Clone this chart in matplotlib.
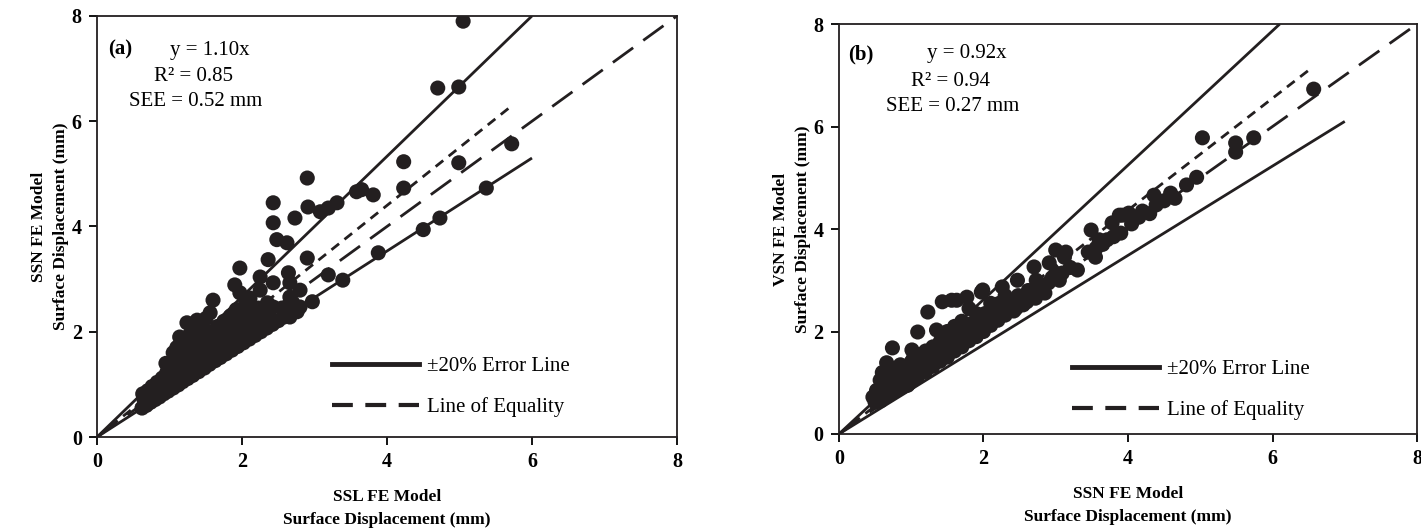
import matplotlib
matplotlib.use("Agg")
import matplotlib.pyplot as plt
from matplotlib.lines import Line2D

plt.rcParams['font.family'] = ['Liberation Serif', 'DejaVu Serif']

# ---------------- data: panel (a) ----------------
a_x = [5.05, 4.70, 4.99, 5.72, 4.99, 4.23, 4.23, 5.37, 4.73, 4.50, 3.88, 3.39, 2.97, 3.81, 3.58, 3.65,
       3.31, 3.19, 3.08, 2.90, 2.43, 2.91, 2.73, 2.43, 2.48, 2.62, 2.36, 2.90, 1.97, 2.25, 2.64, 3.19,
       2.43, 2.66, 2.80, 2.25, 1.90, 1.60, 1.97, 2.11, 2.66, 2.43, 2.76, 2.66, 1.56, 1.24, 1.38, 1.14, 1.05,
       0.62, 0.68, 0.74, 0.80, 0.86, 0.92, 0.98, 1.05, 1.12, 1.18, 1.25, 1.32, 1.40, 1.48, 1.55, 1.63,
       1.70, 1.78, 1.86, 1.94, 2.02, 2.10, 2.18, 2.26, 2.34, 2.42, 2.50, 2.58, 2.68, 2.80,
       0.65, 0.70, 0.76, 0.82, 0.88, 0.95, 1.02, 1.08, 1.15, 1.22, 1.30, 1.38, 1.45, 1.52, 1.60, 1.68,
       1.76, 1.85, 1.93, 2.02, 2.12, 2.20, 2.30,
       0.63, 0.70, 0.76, 0.83, 0.90, 0.96, 1.02, 1.08, 1.15, 1.20, 1.28, 1.35, 1.42, 1.50, 1.58, 1.66,
       1.75, 1.84, 1.92, 2.05, 1.10, 1.28, 1.45, 1.20, 1.55, 1.70, 0.85, 1.00,
       0.66, 0.72, 0.78, 0.84, 0.90, 0.94, 1.00, 1.04, 1.10, 1.12, 1.16, 1.24, 1.26, 1.32, 1.36, 1.42,
       1.46, 1.52, 1.56, 1.62, 1.64, 1.72, 1.74, 1.80, 1.82, 1.90, 1.95, 2.00, 2.08, 2.15, 2.22, 2.28,
       2.35, 2.40, 2.55, 2.70, 1.35, 1.20, 1.50, 0.95]
a_y = [7.90, 6.63, 6.65, 5.57, 5.21, 5.23, 4.73, 4.73, 4.16, 3.94, 3.50, 2.98, 2.57, 4.60, 4.66, 4.70,
       4.45, 4.35, 4.28, 4.92, 4.45, 4.37, 4.16, 4.07, 3.75, 3.69, 3.37, 3.40, 3.21, 3.04, 3.12, 3.08,
       2.93, 2.93, 2.79, 2.79, 2.89, 2.60, 2.74, 2.64, 2.66, 2.47, 2.38, 2.28, 2.36, 2.17, 2.22, 1.90, 1.60,
       0.55, 0.60, 0.66, 0.71, 0.76, 0.82, 0.87, 0.93, 0.99, 1.05, 1.11, 1.17, 1.24, 1.31, 1.38, 1.45,
       1.51, 1.58, 1.65, 1.72, 1.79, 1.86, 1.93, 2.00, 2.07, 2.14, 2.21, 2.28, 2.36, 2.47,
       0.70, 0.76, 0.82, 0.88, 0.95, 1.02, 1.10, 1.17, 1.24, 1.30, 1.38, 1.47, 1.55, 1.62, 1.70, 1.78,
       1.87, 1.96, 2.05, 2.12, 2.22, 2.30, 2.40,
       0.82, 0.88, 0.96, 1.04, 1.12, 1.22, 1.30, 1.38, 1.45, 1.55, 1.62, 1.72, 1.80, 1.90, 2.00, 2.10,
       2.20, 2.30, 2.42, 2.55, 1.70, 1.95, 2.10, 1.40, 1.75, 1.95, 1.00, 1.20,
       0.62, 0.72, 0.78, 0.92, 0.86, 1.08, 0.95, 1.18, 1.04, 1.32, 1.12, 1.20, 1.45, 1.30, 1.52, 1.38,
       1.66, 1.45, 1.85, 1.58, 1.92, 1.64, 2.02, 1.72, 2.12, 1.84, 2.25, 1.98, 2.35, 2.05, 2.45, 2.15,
       2.55, 2.25, 2.45, 2.55, 2.00, 1.80, 2.25, 1.40]

# lines of panel (a)
a_err_hi_x, a_err_hi_y = [0, 6.0], [0, 8.0]
a_err_lo_x, a_err_lo_y = [0, 6.0], [0, 5.3]
a_fit_x, a_fit_y = [0, 5.7], [0, 6.27]
a_eq_x, a_eq_y = [0, 8], [0, 8]

# ---------------- data: panel (b) ----------------
b_x = [6.57, 5.03, 5.74, 5.49, 5.49, 4.95, 4.81, 4.59, 4.36, 4.39, 4.01, 4.15, 3.88, 3.78, 3.92, 3.49,
       3.60, 3.56, 3.71, 3.90, 3.00, 3.12, 3.14, 3.00, 2.91, 3.09, 2.70, 2.73, 2.77, 2.47, 2.26, 1.99,
       1.97, 1.77, 1.63, 1.56, 1.43, 1.23, 1.35, 1.09, 0.74, 1.01, 0.66, 0.57, 0.47,
       0.50, 0.55, 0.60, 0.65, 0.70, 0.75, 0.80, 0.85, 0.90, 0.95, 1.00, 1.05, 1.10, 1.15, 1.20, 1.25,
       1.30, 1.35, 1.40, 1.45, 1.50, 1.55, 1.60, 1.65, 1.70, 1.75, 1.80, 1.85, 1.90, 1.95, 2.00, 2.05,
       2.10, 2.15, 2.20, 2.25, 2.30, 2.38, 2.45, 2.52, 2.60, 2.68, 2.80, 2.90, 0.70, 1.00, 1.20, 1.50,
       1.70, 1.90, 2.10, 0.60, 0.85, 1.10, 1.40, 1.60, 2.30, 0.95, 1.30, 1.80,
       0.52, 0.58, 0.62, 0.68, 0.72, 0.78, 0.82, 0.88, 0.92, 0.98, 1.02, 1.08, 1.12, 1.18, 1.22, 1.28,
       1.32, 1.38, 1.42, 1.48, 1.52, 1.58, 1.62, 1.68, 1.72, 1.78, 1.82, 1.88, 1.92, 1.98, 2.02, 2.08,
       2.12, 2.18, 2.22, 2.28, 2.35, 2.42, 2.48, 2.55, 2.62, 2.72, 2.85, 2.95, 3.05, 3.20, 3.30, 3.45,
       3.55, 3.65, 3.80, 4.05, 4.20, 4.30, 4.50, 4.65]
b_y = [6.73, 5.78, 5.78, 5.68, 5.50, 5.01, 4.86, 4.70, 4.66, 4.47, 4.31, 4.23, 4.27, 4.12, 4.27, 3.98,
       3.79, 3.63, 3.79, 3.92, 3.59, 3.45, 3.55, 3.14, 3.34, 3.14, 3.26, 3.00, 2.77, 3.00, 2.87, 2.81,
       2.77, 2.67, 2.61, 2.61, 2.58, 2.38, 2.03, 1.99, 1.68, 1.64, 1.39, 1.05, 0.72,
       0.62, 0.70, 0.80, 0.90, 0.98, 1.05, 0.90, 1.10, 1.00, 1.20, 1.05, 1.25, 1.15, 1.35, 1.22, 1.45,
       1.32, 1.55, 1.42, 1.65, 1.50, 1.72, 1.62, 1.85, 1.70, 1.95, 1.82, 2.05, 1.90, 2.15, 2.00, 2.25,
       2.12, 2.35, 2.22, 2.42, 2.32, 2.50, 2.45, 2.62, 2.58, 2.75, 2.85, 2.95, 0.78, 1.40, 1.62, 2.00,
       2.20, 2.35, 2.55, 1.20, 1.35, 1.55, 1.80, 2.10, 2.70, 0.95, 1.70, 2.45,
       0.85, 0.65, 1.00, 0.75, 1.15, 0.85, 1.25, 0.92, 1.30, 1.00, 1.45, 1.10, 1.50, 1.25, 1.58, 1.35,
       1.62, 1.45, 1.75, 1.55, 1.85, 1.65, 1.95, 1.75, 2.05, 1.85, 2.15, 1.95, 2.25, 2.05, 2.35, 2.15,
       2.45, 2.25, 2.55, 2.35, 2.62, 2.40, 2.70, 2.52, 2.80, 2.65, 2.75, 3.05, 3.00, 3.25, 3.20, 3.55,
       3.45, 3.70, 3.85, 4.10, 4.35, 4.30, 4.55, 4.60]

b_err_hi_x, b_err_hi_y = [0, 6.1], [0, 8.0]
b_err_lo_x, b_err_lo_y = [0, 7.0], [0, 6.1]
b_fit_x, b_fit_y = [0, 6.52], [0, 7.12]
b_eq_x, b_eq_y = [0, 8], [0, 8]

ticks = [0, 2, 4, 6, 8]

panels = [
    dict(pos=[0.0683, 0.177, 0.4081, 0.793], x=a_x, y=a_y,
         hi=(a_err_hi_x, a_err_hi_y), lo=(a_err_lo_x, a_err_lo_y),
         fit=(a_fit_x, a_fit_y), eq=(a_eq_x, a_eq_y),
         tag='(a)', eqn='y = 1.10x', r2='R² = 0.85', see='SEE = 0.52 mm',
         tagxy=(0.040, 0.920), eqnxy=(0.195, 0.919), r2xy=(0.167, 0.855), seexy=(0.170, 0.796),
         xlabel='SSL FE Model\nSurface Displacement (mm)',
         ylabel='SSN FE Model\nSurface Displacement (mm)',
         leg=(0.405, 0.048)),
    dict(pos=[0.5904, 0.1827, 0.4068, 0.772], x=b_x, y=b_y,
         hi=(b_err_hi_x, b_err_hi_y), lo=(b_err_lo_x, b_err_lo_y),
         fit=(b_fit_x, b_fit_y), eq=(b_eq_x, b_eq_y),
         tag='(b)', eqn='y = 0.92x', r2='R² = 0.94', see='SEE = 0.27 mm',
         tagxy=(0.038, 0.925), eqnxy=(0.221, 0.927), r2xy=(0.193, 0.861), seexy=(0.196, 0.798),
         xlabel='SSN FE Model\nSurface Displacement (mm)',
         ylabel='VSN FE Model\nSurface Displacement (mm)',
         leg=(0.403, 0.034)),
]

fig = plt.figure(figsize=(14.21, 5.31), dpi=100)
for p in panels:
    ax = fig.add_axes(p['pos'])
    ax.plot(*p['hi'], color='#231f20', lw=2.0, solid_capstyle='butt')
    ax.plot(*p['lo'], color='#231f20', lw=2.0, solid_capstyle='butt')
    ax.plot(*p['fit'], color='#231f20', lw=2.0, dashes=(3.5, 2.5))
    ax.plot(*p['eq'], color='#231f20', lw=2.0, dashes=(9, 4.5))
    ax.scatter(p['x'], p['y'], s=118, color='#231f20', edgecolors='none', zorder=3)
    ax.set_xlim(0, 8)
    ax.set_ylim(0, 8)
    ax.set_xticks(ticks)
    ax.set_yticks(ticks)
    ax.tick_params(direction='out', length=6, width=1.3, labelsize=14.5, pad=5,
                   top=False, right=False)
    for lab in ax.get_xticklabels() + ax.get_yticklabels():
        lab.set_fontweight('bold')
    for s in ax.spines.values():
        s.set_linewidth(1.3)
        s.set_color('#231f20')
    ax.set_xlabel(p['xlabel'], fontsize=12.5, fontweight='bold', labelpad=12, linespacing=1.55)
    ax.set_ylabel(p['ylabel'], fontsize=12.5, fontweight='bold', labelpad=2, linespacing=1.45)
    ax.text(*p['tagxy'], p['tag'], transform=ax.transAxes, fontsize=15, fontweight='bold',
            ha='center', va='center')
    ax.text(*p['eqnxy'], p['eqn'], transform=ax.transAxes, fontsize=15, ha='center', va='center')
    ax.text(*p['r2xy'], p['r2'], transform=ax.transAxes, fontsize=15, ha='center', va='center')
    ax.text(*p['seexy'], p['see'], transform=ax.transAxes, fontsize=15, ha='center', va='center')
    handles = [Line2D([], [], color='#231f20', lw=3.5),
               Line2D([], [], color='#231f20', lw=3.0, dashes=(5, 3))]
    ax.legend(handles, ['±20% Error Line', 'Line of Equality'], loc='lower left',
              bbox_to_anchor=p['leg'], frameon=False, fontsize=15, handlelength=4.2,
              handletextpad=0.35, labelspacing=1.0, borderpad=0, borderaxespad=0)

fig.savefig('out.png', dpi=100)
